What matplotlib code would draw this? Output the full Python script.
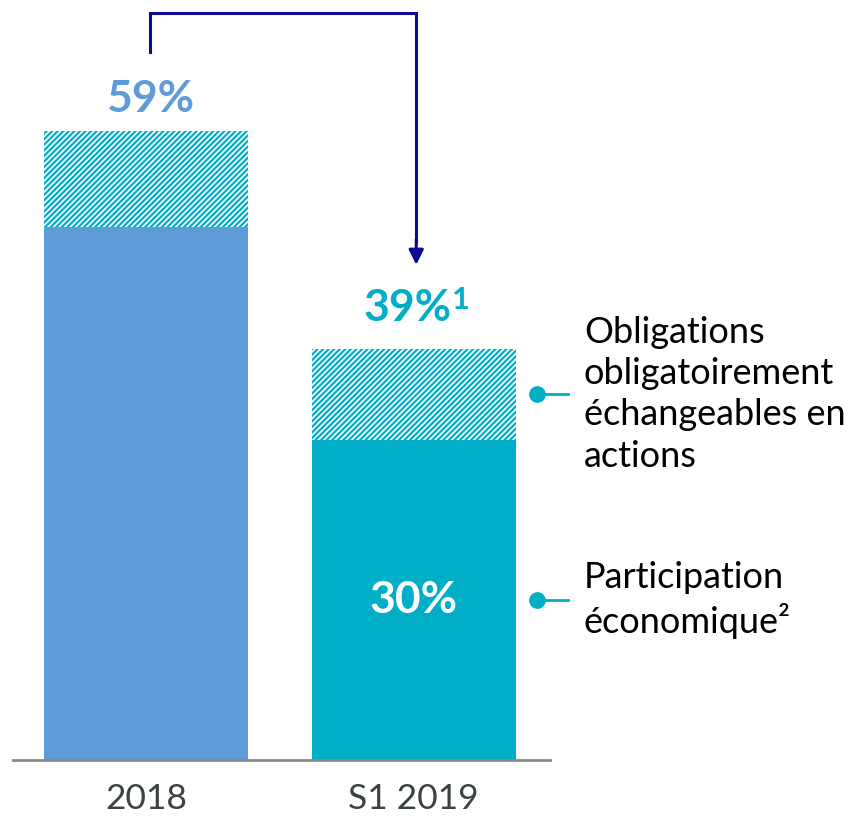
import matplotlib.pyplot as plt
from matplotlib.patches import FancyArrowPatch

plt.rcParams['font.family'] = ['Lato', 'DejaVu Sans']
plt.rcParams['hatch.linewidth'] = 1.6

categories = ['2018', 'S1 2019']
participation = [50, 30]
obligations = [9, 8.6]
totals = ['59%', '39%']
total_notes = ['', '1']
solid_labels = ['', '30%']
legend_labels = ['Obligations\nobligatoirement\néchangeables en\nactions',
                 'Participation\néconomique²']

bar_colors = ['#5f9bd9', '#00afc7']
hatch_color = '#00aec6'
arrow_color = '#0b0b96'

fig = plt.figure(figsize=(8.56, 8.16), dpi=100)
ax = fig.add_axes([0, 0, 1, 1])
ax.set_xlim(-0.546, 2.654)
ax.set_ylim(-5.25, 71.3)
ax.axis('off')

x = [0, 1]
w = 0.763
ax.bar(x, participation, width=w, color=bar_colors, linewidth=0, zorder=2)
ax.bar(x, obligations, bottom=participation, width=w, color='white',
       edgecolor=hatch_color, hatch='//////', linewidth=0, zorder=2)

# baseline
ax.axhline(0, xmin=0.015, xmax=0.643, color='#8a8a8a', linewidth=2, zorder=3)

# tick labels
for xi, cat in zip(x, categories):
    ax.text(xi, -3.7, cat, ha='center', va='center', fontsize=25.5, color='#3a4242')

# total labels
offsets = [1.8, 2.6]
for i, (xi, lab, note) in enumerate(zip(x, totals, total_notes)):
    top = participation[i] + obligations[i]
    t = ax.text(xi + (0.016 if i == 0 else -0.023), top + offsets[i], lab,
                ha='center', va='baseline', fontsize=32, fontweight='bold',
                color=bar_colors[i])
    if note:
        ax.annotate(note, xy=(1, 1), xycoords=t, xytext=(0, 1),
                    textcoords='offset points', ha='left', va='top',
                    fontsize=22, fontweight='bold', color=bar_colors[i])

# value inside bar
for xi, val in zip(x, solid_labels):
    if val:
        ax.text(xi, participation[1] / 2, val, ha='center', va='center',
                fontsize=32, fontweight='bold', color='white')

# arrow between bars
t0 = participation[0] + obligations[0]
t1 = participation[1] + obligations[1]
ax.plot([0.015, 0.015, 1.01, 1.01], [t0 + 7.4, 70.1, 70.1, t1 + 10], color=arrow_color,
        linewidth=2.2, solid_joinstyle='miter')
ax.add_patch(FancyArrowPatch((1.01, t1 + 10.5), (1.01, t1 + 7.6), arrowstyle='-|>',
                             mutation_scale=22, color=arrow_color, linewidth=2.2))

# legend with connectors
mids = [participation[1] + obligations[1] / 2, participation[1] / 2]
for ym, lab in zip(mids, legend_labels):
    ax.plot([1.462, 1.578], [ym, ym], color=hatch_color, linewidth=2)
    ax.plot(1.462, ym, 'o', color=hatch_color, markersize=11)
    ax.text(1.637, ym, lab, ha='left', va='center', fontsize=26, color='black',
            linespacing=1.3)

fig.savefig('out.png', dpi=100)
